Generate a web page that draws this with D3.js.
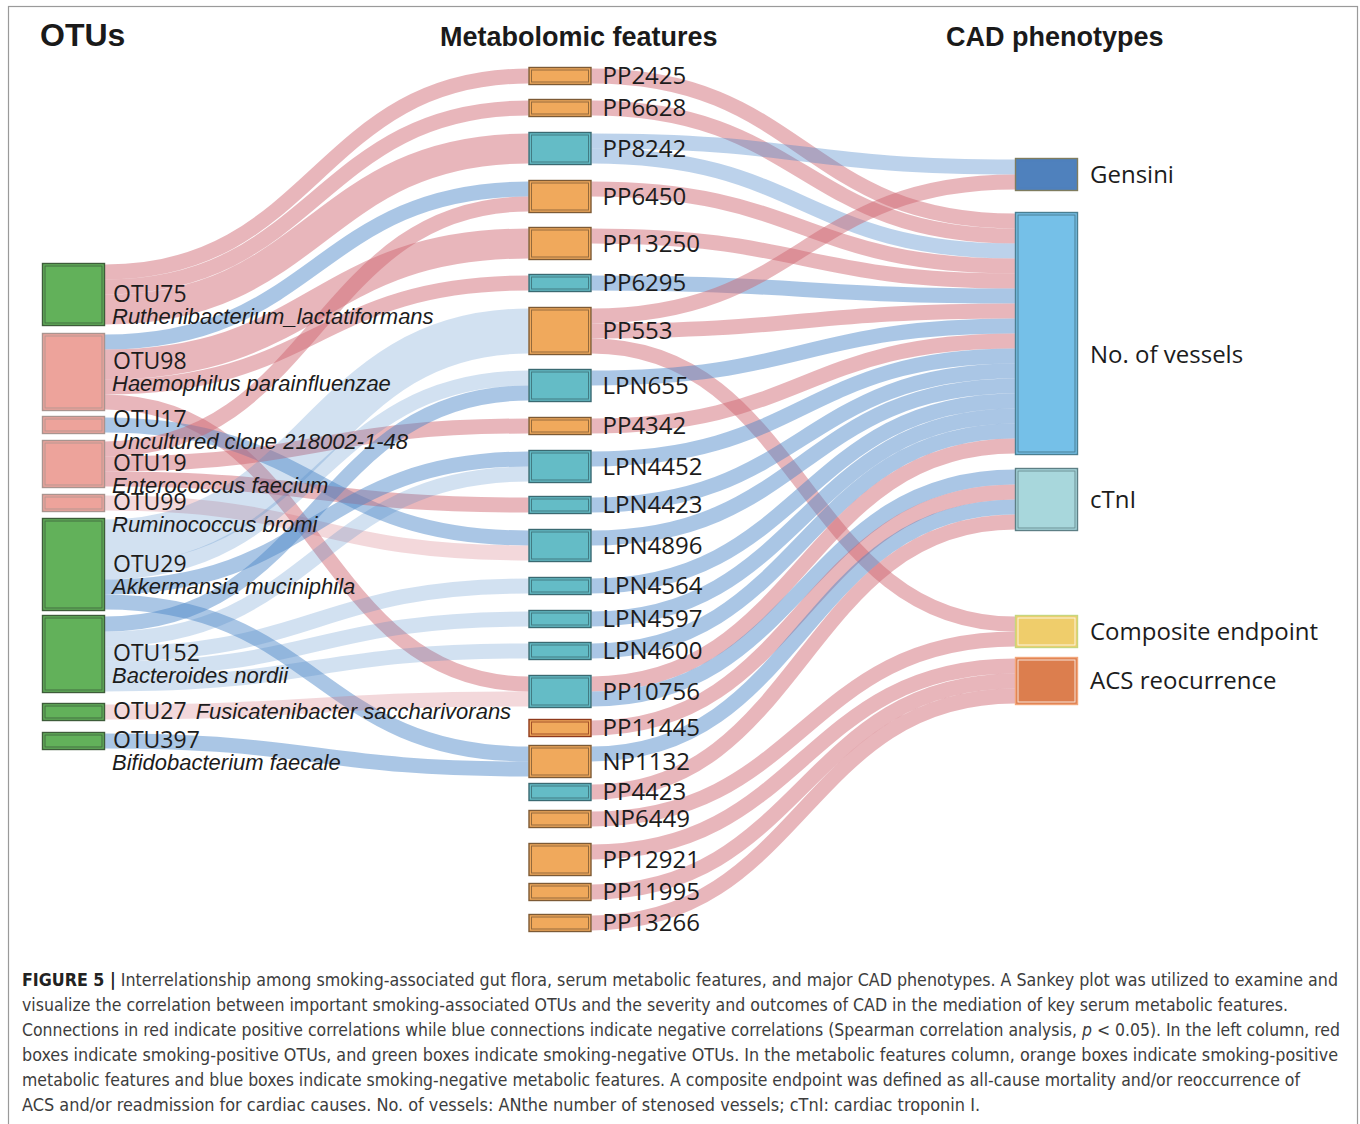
<!DOCTYPE html>
<html>
<head>
<meta charset="utf-8">
<script src="https://cdn.jsdelivr.net/npm/d3@7"></script>
<style>
    body { margin: 0; background: #fff; }
    svg { display: block; }
</style>
</head>
<body>
<div id="chart"></div>
<script>
// ---------- data ----------
const otuNames = ["OTU75", "OTU98", "OTU17", "OTU19", "OTU99", "OTU29", "OTU152", "OTU27", "OTU397"];
const otuTaxa = [
    "Ruthenibacterium_lactatiformans", "Haemophilus parainfluenzae", "Uncultured clone 218002-1-48",
    "Enterococcus faecium", "Ruminococcus bromi", "Akkermansia muciniphila", "Bacteroides nordii",
    "Fusicatenibacter saccharivorans", "Bifidobacterium faecale"
];
// +1 smoking-positive, -1 smoking-negative
const otuSmoking = [-1, 1, 1, 1, 1, -1, -1, -1, -1];
const otuUnits = [4, 5, 1, 3, 1, 6, 5, 1, 1];

const metabNames = [
    "PP2425", "PP6628", "PP8242", "PP6450", "PP13250", "PP6295", "PP553", "LPN655", "PP4342",
    "LPN4452", "LPN4423", "LPN4896", "LPN4564", "LPN4597", "LPN4600", "PP10756", "PP11445",
    "NP1132", "PP4423", "NP6449", "PP12921", "PP11995", "PP13266"
];
const metabSmoking = [1, 1, -1, 1, 1, -1, 1, -1, 1, -1, -1, -1, -1, -1, -1, -1, 1, 1, -1, 1, 1, 1, 1];
const metabUnits = [1, 1, 2, 2, 2, 1, 3, 2, 1, 2, 1, 2, 1, 1, 1, 2, 1, 2, 1, 1, 2, 1, 1];

const phenoNames = ["Gensini", "No. of vessels", "cTnI", "Composite endpoint", "ACS reocurrence"];

// [source, target, units, spearman r]
const otuMetabLinks = [
    ["OTU75", "PP2425", 1, 0.33],
    ["OTU75", "PP6628", 1, 0.33],
    ["OTU75", "PP8242", 2, 0.33],
    ["OTU98", "PP6450", 1, -0.33],
    ["OTU98", "PP13250", 2, 0.33],
    ["OTU98", "PP6295", 1, 0.33],
    ["OTU98", "PP10756", 1, 0.33],
    ["OTU17", "LPN4896", 1, -0.33],
    ["OTU19", "PP6450", 1, 0.33],
    ["OTU19", "PP4342", 1, 0.33],
    ["OTU19", "LPN4423", 1, 0.33],
    ["OTU99", "LPN4896", 1, 0.2],
    ["OTU29", "PP553", 3, -0.2],
    ["OTU29", "LPN655", 1, -0.2],
    ["OTU29", "LPN4452", 1, -0.33],
    ["OTU29", "NP1132", 1, -0.33],
    ["OTU152", "LPN655", 1, -0.33],
    ["OTU152", "LPN4452", 1, -0.2],
    ["OTU152", "LPN4564", 1, -0.2],
    ["OTU152", "LPN4597", 1, -0.2],
    ["OTU152", "LPN4600", 1, -0.2],
    ["OTU27", "PP10756", 1, 0.2],
    ["OTU397", "NP1132", 1, -0.33]
];

const metabPhenoLinks = [
    ["PP2425", "No. of vessels", 1, 0.33],
    ["PP6628", "No. of vessels", 1, 0.33],
    ["PP8242", "Gensini", 1, -0.27],
    ["PP8242", "No. of vessels", 1, -0.27],
    ["PP6450", "No. of vessels", 1, 0.33],
    ["PP13250", "No. of vessels", 1, 0.33],
    ["PP6295", "No. of vessels", 1, -0.33],
    ["PP553", "Gensini", 1, 0.33],
    ["PP553", "No. of vessels", 1, 0.33],
    ["PP553", "Composite endpoint", 1, 0.33],
    ["LPN655", "No. of vessels", 1, -0.33],
    ["PP4342", "No. of vessels", 1, 0.33],
    ["LPN4452", "No. of vessels", 1, -0.33],
    ["LPN4423", "No. of vessels", 1, -0.33],
    ["LPN4896", "No. of vessels", 1, -0.33],
    ["LPN4564", "No. of vessels", 1, -0.33],
    ["LPN4597", "No. of vessels", 1, -0.33],
    ["LPN4600", "No. of vessels", 1, -0.33],
    ["PP10756", "No. of vessels", 1, 0.33],
    ["PP10756", "cTnI", 1, -0.33],
    ["PP11445", "cTnI", 1, 0.33],
    ["NP1132", "cTnI", 1, -0.33],
    ["PP4423", "cTnI", 1, 0.33],
    ["NP6449", "Composite endpoint", 1, 0.33],
    ["PP12921", "ACS reocurrence", 1, 0.33],
    ["PP11995", "ACS reocurrence", 1, 0.33],
    ["PP13266", "ACS reocurrence", 1, 0.33]
];

const columnTitles = ["OTUs", "Metabolomic features", "CAD phenotypes"];

const captionLines = [
    "**FIGURE 5 |** Interrelationship among smoking-associated gut flora, serum metabolic features, and major CAD phenotypes. A Sankey plot was utilized to examine and",
    "visualize the correlation between important smoking-associated OTUs and the severity and outcomes of CAD in the mediation of key serum metabolic features.",
    "Connections in red indicate positive correlations while blue connections indicate negative correlations (Spearman correlation analysis, *p* < 0.05). In the left column, red",
    "boxes indicate smoking-positive OTUs, and green boxes indicate smoking-negative OTUs. In the metabolic features column, orange boxes indicate smoking-positive",
    "metabolic features and blue boxes indicate smoking-negative metabolic features. A composite endpoint was defined as all-cause mortality and/or reoccurrence of",
    "ACS and/or readmission for cardiac causes. No. of vessels: ANthe number of stenosed vessels; cTnI: cardiac troponin I."
];

// ---------- layout / style ----------
const width = 1360;
const height = 1124;
const unit = 15;           // px per link unit
const nodeWidth = 63;
const nodeH = (u) => u * unit + 3;

const colX = d3.scalePoint().domain(["otu", "metab", "pheno"]).range([42, 1015]);

const columnLayout = {
    otu: { top: 263, gaps: [7, 5, 6, 6, 6, 4, 10, 11], labelDx: 8 },
    metab: { top: 67, gaps: [14, 15, 15, 14, 14, 15, 14, 15, 15, 13, 15, 15, 15, 14, 15, 11, 8, 5, 9, 15, 7, 13], labelDx: 11 },
    pheno: { top: 158, gaps: [21, 13, 84, 9], labelDx: 12 }
};

const inlineTaxon = new Set(["OTU27"]);
// a few labels sit off their box centre in the original
const labelNudge = { "No. of vessels": 21, "OTU98": -10, "OTU17": -5 };

const otuFill = d3.scaleOrdinal().domain([1, -1]).range(["#eda39b", "#62b15a"]);
const otuStroke = d3.scaleOrdinal().domain([1, -1]).range(["#a9948f", "#3d5c39"]);
const metabFill = d3.scaleOrdinal().domain([1, -1]).range(["#f0a95c", "#64bcc6"]);
const metabStroke = d3.scaleOrdinal().domain([1, -1]).range(["#7d5a35", "#3a6a72"]);
const phenoFill = d3.scaleOrdinal().domain(phenoNames)
    .range(["#4f81bd", "#75c0e8", "#a8d7dc", "#efcd6b", "#dc7e4e"]);
const phenoStroke = d3.scaleOrdinal().domain(phenoNames)
    .range(["#7f7c5e", "#4a7f92", "#5d7f85", "#c6d67f", "#f2a67a"]);
const phenoInner = d3.scaleOrdinal().domain(phenoNames)
    .range(["#4f81bd", "#3f6f80", "#5d7f85", "#ffffff", "#ffffff"]);

const linkColor = (r) => (r > 0 ? "rgb(206,100,110)" : "rgb(74,134,200)");
const linkOpacity = d3.scaleLinear().domain([0.2, 0.33]).range([0.25, 0.47]).clamp(true);

// ---------- build nodes ----------
const nodeByName = new Map();
const columns = { otu: [], metab: [], pheno: [] };

function addNode(col, name, units, extra) {
    const node = Object.assign({ col, name, units, sourceLinks: [], targetLinks: [] }, extra);
    nodeByName.set(name, node);
    columns[col].push(node);
}

otuNames.forEach((n, i) =>
    addNode("otu", n, otuUnits[i], { taxon: otuTaxa[i], sign: otuSmoking[i] })
);
metabNames.forEach((n, i) =>
    addNode("metab", n, metabUnits[i], { sign: metabSmoking[i] })
);
phenoNames.forEach((n) => addNode("pheno", n, 0, {}));

const links = [...otuMetabLinks, ...metabPhenoLinks].map(([s, t, u, r]) => {
    const link = { source: nodeByName.get(s), target: nodeByName.get(t), units: u, r };
    link.source.sourceLinks.push(link);
    link.target.targetLinks.push(link);
    return link;
});

// phenotype boxes are as big as what flows into them
columns.pheno.forEach((n) => (n.units = d3.sum(n.targetLinks, (l) => l.units)));

// stack nodes inside each column
Object.keys(columns).forEach((col) => {
    const lay = columnLayout[col];
    let y = lay.top;
    columns[col].forEach((n, i) => {
        n.x0 = colX(col);
        n.x1 = n.x0 + nodeWidth;
        n.y0 = y;
        n.y1 = y + nodeH(n.units);
        y = n.y1 + (lay.gaps[i] || 0);
    });
});

// stack link ends inside each node
nodeByName.forEach((n) => {
    const pad = (n.y1 - n.y0 - n.units * unit) / 2;
    let y = n.y0 + pad;
    n.sourceLinks.sort((a, b) => a.target.y0 - b.target.y0);
    n.sourceLinks.forEach((l) => {
        l.y0 = y + (l.units * unit) / 2;
        y += l.units * unit;
    });
    y = n.y0 + pad;
    n.targetLinks.sort((a, b) => a.source.y0 - b.source.y0);
    n.targetLinks.forEach((l) => {
        l.y1 = y + (l.units * unit) / 2;
        y += l.units * unit;
    });
});

// ---------- draw ----------
const svg = d3
    .select("#chart")
    .append("svg")
    .attr("width", width)
    .attr("height", height);

svg.append("rect")
    .attr("x", 8.5)
    .attr("y", 6.5)
    .attr("width", 1349)
    .attr("height", height + 10)
    .attr("fill", "none")
    .attr("stroke", "#9a9a9a")
    .attr("stroke-width", 1.2);

// column titles
const titleX = [40, 440, 946];
svg.append("g")
    .selectAll("text")
    .data(columnTitles)
    .join("text")
    .attr("x", (d, i) => titleX[i])
    .attr("y", 46)
    .attr("font-family", "'Liberation Sans', Arial, sans-serif")
    .attr("font-weight", "bold")
    .attr("font-size", (d, i) => (i === 0 ? "32px" : "27px"))
    .attr("fill", "#1a1a1a")
    .text((d) => d);

// links
const linkPath = d3.linkHorizontal()
    .source((d) => [d.source.x1, d.y0])
    .target((d) => [d.target.x0, d.y1]);

svg.append("g")
    .attr("fill", "none")
    .selectAll("path")
    .data(links)
    .join("path")
    .attr("d", linkPath)
    .attr("stroke", (d) => linkColor(d.r))
    .attr("stroke-opacity", (d) => linkOpacity(Math.abs(d.r)))
    .attr("stroke-width", (d) => d.units * unit);

// nodes
const allNodes = [...columns.otu, ...columns.metab, ...columns.pheno];

function fillOf(n) {
    if (n.col === "otu") return otuFill(n.sign);
    if (n.col === "metab") return metabFill(n.sign);
    return phenoFill(n.name);
}
function strokeOf(n) {
    if (n.col === "otu") return otuStroke(n.sign);
    if (n.col === "metab") return n.name === "PP11445" ? "#8f3a1c" : metabStroke(n.sign);
    return phenoStroke(n.name);
}
function innerOf(n) {
    if (n.col === "pheno") return phenoInner(n.name);
    return strokeOf(n);
}

const nodeG = svg.append("g")
    .selectAll("g")
    .data(allNodes)
    .join("g");

nodeG.append("rect")
    .attr("x", (d) => d.x0 + 0.5)
    .attr("y", (d) => d.y0 + 0.5)
    .attr("width", nodeWidth - 1)
    .attr("height", (d) => d.y1 - d.y0 - 1)
    .attr("fill", fillOf)
    .attr("stroke", strokeOf)
    .attr("stroke-width", 1.4);

nodeG.append("rect")
    .attr("x", (d) => d.x0 + 3)
    .attr("y", (d) => d.y0 + 3)
    .attr("width", nodeWidth - 6)
    .attr("height", (d) => Math.max(0, d.y1 - d.y0 - 6))
    .attr("fill", "none")
    .attr("stroke", innerOf)
    .attr("stroke-opacity", 0.8)
    .attr("stroke-width", 1);

// node labels
const labelFont = "'Open Sans', 'Noto Sans', sans-serif";
const labelY = (d) => (d.y0 + d.y1) / 2 + (d.col === "otu" ? 7 : 8) + (labelNudge[d.name] || 0);

nodeG.append("text")
    .attr("x", (d) => d.x1 + columnLayout[d.col].labelDx)
    .attr("y", labelY)
    .attr("font-family", labelFont)
    .attr("font-size", (d) => (d.col === "otu" ? "23px" : "24px"))
    .attr("fill", "#1c1c1c")
    .text((d) => d.name);

nodeG.filter((d) => d.col === "otu")
    .append("text")
    .attr("x", function (d) {
        if (!inlineTaxon.has(d.name)) return d.x1 + 7;
        const nameNode = d3.select(this.parentNode).select("text").node();
        return d.x1 + columnLayout.otu.labelDx + nameNode.getComputedTextLength() + 9;
    })
    .attr("y", (d) => labelY(d) + (inlineTaxon.has(d.name) ? 0 : 22))
    .attr("font-family", "'Liberation Sans', Arial, sans-serif")
    .attr("font-style", "italic")
    .attr("font-size", "22px")
    .attr("fill", "#1c1c1c")
    .text((d) => d.taxon);

// caption
const captionWidths = [1316, 1266, 1318, 1316, 1278, 958];
const caption = svg.append("g")
    .attr("font-family", "'Liberation Sans Narrow', 'DejaVu Sans Condensed', 'Liberation Sans', sans-serif")
    .attr("font-size", "17px")
    .attr("fill", "#3d3d3d");

captionLines.forEach((line, i) => {
    const t = caption.append("text")
        .attr("x", 22)
        .attr("y", 986 + i * 25)
        .attr("textLength", captionWidths[i])
        .attr("lengthAdjust", "spacingAndGlyphs");
    line.split(/(\*\*[^*]+\*\*|\*[^*]+\*)/).filter((s) => s.length).forEach((part) => {
        const span = t.append("tspan");
        if (part.startsWith("**")) {
            span.attr("font-weight", "bold").attr("fill", "#222").text(part.slice(2, -2));
        } else if (part.startsWith("*")) {
            span.attr("font-style", "italic").text(part.slice(1, -1));
        } else {
            span.text(part);
        }
    });
});
</script>
</body>
</html>
